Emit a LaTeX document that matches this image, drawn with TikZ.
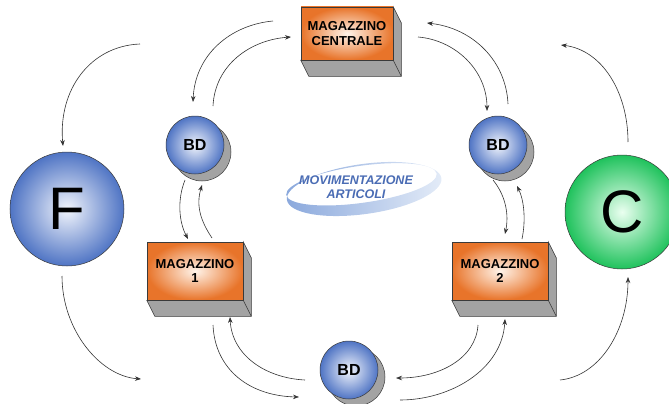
\documentclass[tikz,border=0pt]{standalone}
\usepackage{fontspec}
\setmainfont{Liberation Sans}
\usetikzlibrary{arrows.meta,calc,backgrounds}
\definecolor{boxorange}{HTML}{E8742A}
\definecolor{boxlight}{HTML}{FFF4EA}
\definecolor{depthgray}{HTML}{A3A3A3}
\definecolor{edgegray}{HTML}{3A3A3A}
\definecolor{ballblue}{HTML}{4F74C4}
\definecolor{balllight}{HTML}{F2F5FC}
\definecolor{ballgreen}{HTML}{1FC25C}
\definecolor{greenlight}{HTML}{EAFFF0}
\definecolor{arrowgray}{HTML}{333333}
\definecolor{movblue}{HTML}{4A6CB4}
\definecolor{swooshblue}{HTML}{8AA8DC}
\definecolor{swooshlight}{HTML}{E4ECF8}
\begin{document}
\begin{tikzpicture}[x=1pt,y=-1pt,
  flow/.style={draw=arrowgray, line width=0.6pt, -{Stealth[length=6pt,width=4.5pt]}},
  magbox/.style={draw=edgegray, line width=0.5pt, inner color=boxlight, outer color=boxorange,
    minimum width=96pt, minimum height=58pt, inner sep=0pt, align=center,
    font=\bfseries\fontsize{13}{14.5}\selectfont},
  bdball/.style={circle, draw=edgegray, line width=0.5pt, inner color=balllight, outer color=ballblue,
    minimum size=58pt, inner sep=0pt, font=\bfseries\fontsize{16}{18}\selectfont},
  bigball/.style={circle, draw=edgegray, line width=0.5pt, minimum size=114pt, inner sep=0pt,
    font=\fontsize{60}{60}\selectfont},
  depth/.style={fill=depthgray, draw=edgegray, line width=0.5pt},
]
\useasboundingbox (0,0) rectangle (669,404);

% swoosh
\begin{scope}[rotate around={8:(364,188)}]
  \path[even odd rule, left color=swooshblue, right color=swooshlight]
    (364,189) ellipse [x radius=78pt, y radius=25pt]
    (362,184) ellipse [x radius=76pt, y radius=18.5pt];
\end{scope}
\node[font=\bfseries\itshape\fontsize{12.5}{14}\selectfont, text=movblue, align=center] (mov) at (356,187)
  {MOVIMENTAZIONE\\ARTICOLI};

% boxes
\node[magbox, minimum width=92pt, minimum height=53pt] (mc) at (347,33.5) {MAGAZZINO\\CENTRALE};
\node[magbox] (m1) at (195,271) {MAGAZZINO\\1};
\node[magbox] (m2) at (500,271) {MAGAZZINO\\2};

% balls
\node[bdball] (bd1) at (195,145) {BD};
\node[bdball] (bd2) at (498,145) {BD};
\node[bdball] (bd3) at (349,370) {BD};
\node[bigball, inner color=balllight, outer color=ballblue] (f) at (67,209) {F};
\node[bigball, inner color=greenlight, outer color=ballgreen] (c) at (622,212) {C};

\begin{pgfonlayer}{background}
  \foreach \b in {mc,m1,m2}{
    \path[depth] (\b.south west) -- ++(8,16) -- ($(\b.south east)+(8,16)$)
      -- ($(\b.north east)+(8,16)$) -- (\b.north east) -- (\b.south east) -- cycle;
    \draw[edgegray, line width=0.5pt] (\b.south east) -- ++(8,16);
  }
  \foreach \b in {bd1,bd2,bd3}{
    \path[depth] ($(\b)+(7,7)$) circle (29pt);
  }
\end{pgfonlayer}

% connector end points
\coordinate (ft0) at (140,44);   \coordinate (ft1) at (63,146);
\coordinate (fb0) at (62,276);   \coordinate (fb1) at (141,379);
\coordinate (cb0) at (560,380);  \coordinate (cb1) at (628,277);
\coordinate (ct0) at (628,142);  \coordinate (ct1) at (561,45);
\coordinate (a50) at (273,21);   \coordinate (a51) at (193,102);
\coordinate (a60) at (213,106);  \coordinate (a61) at (291,37);
\coordinate (a70) at (508,104);  \coordinate (a71) at (427,23);
\coordinate (a80) at (418,37);   \coordinate (a81) at (487,111);
\coordinate (a90) at (185,180);  \coordinate (a91) at (188,239);
\coordinate (b10) at (212,238);  \coordinate (b11) at (202,185);
\coordinate (b20) at (493,180);  \coordinate (b21) at (505,234);
\coordinate (b30) at (522,239);  \coordinate (b31) at (517,186);
\coordinate (b40) at (213,325);  \coordinate (b41) at (299,397);
\coordinate (b50) at (305,380);  \coordinate (b51) at (230,317);
\coordinate (b60) at (478,325);  \coordinate (b61) at (396,378);
\coordinate (b70) at (400,400);  \coordinate (b71) at (505,319);

\draw[flow] (ft0) .. controls (90,46) and (58,90) .. (ft1);
\draw[flow] (fb0) .. controls (62,330) and (100,376) .. (fb1);
\draw[flow] (cb0) .. controls (600,376) and (628,330) .. (cb1);
\draw[flow] (ct0) .. controls (628,92) and (602,50) .. (ct1);

\draw[flow] (a50) .. controls (230,25) and (195,55) .. (a51);
\draw[flow] (a60) .. controls (215,65) and (250,40) .. (a61);
\draw[flow] (a70) .. controls (506,60) and (472,28) .. (a71);
\draw[flow] (a80) .. controls (455,40) and (487,70) .. (a81);

\draw[flow] (a90) .. controls (177,200) and (179,222) .. (a91);
\draw[flow] (b10) .. controls (200,220) and (196,205) .. (b11);
\draw[flow] (b20) .. controls (506,196) and (509,215) .. (b21);
\draw[flow] (b30) .. controls (526,220) and (524,200) .. (b31);

\draw[flow] (b40) .. controls (215,370) and (250,396) .. (b41);
\draw[flow] (b50) .. controls (265,378) and (232,355) .. (b51);
\draw[flow] (b60) .. controls (476,358) and (440,378) .. (b61);
\draw[flow] (b70) .. controls (450,400) and (502,370) .. (b71);
\end{tikzpicture}
\end{document}
